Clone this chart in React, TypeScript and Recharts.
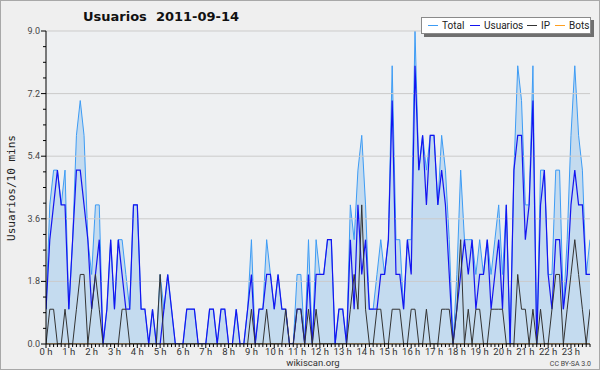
import React from 'react'
import { ComposedChart, Area, Line, XAxis, YAxis, CartesianGrid, ReferenceLine } from 'recharts'

// one value every 10 minutes, 6 per row = 1 hour
const total = [
  1, 4, 5, 5, 4, 5,
  1, 3, 6, 7, 6, 3,
  2, 4, 4, 0, 1, 3,
  1, 3, 3, 2, 1, 4,
  4, 1, 1, 0, 1, 0,
  2, 1, 2, 1, 0, 0,
  0, 1, 1, 1, 0, 0,
  0, 1, 1, 0, 1, 1,
  0, 0, 1, 0, 0, 1,
  3, 0, 1, 1, 3, 2,
  1, 2, 1, 1, 0, 0,
  2, 2, 0, 3, 0, 3,
  2, 2, 3, 3, 0, 1,
  1, 0, 4, 3, 5, 6,
  4, 1, 1, 2, 3, 2,
  3, 8, 3, 3, 1, 3,
  3, 9, 5, 6, 5, 6,
  6, 4, 6, 5, 3, 0,
  2, 5, 3, 3, 3, 2,
  3, 2, 3, 2, 3, 4,
  2, 4, 0, 5, 8, 7,
  4, 4, 8, 0, 5, 5,
  2, 2, 5, 5, 1, 3,
  6, 8, 6, 5, 2, 3,
]

const usuarios = [
  1, 3, 4, 5, 4, 4,
  1, 3, 5, 5, 4, 3,
  1, 2, 3, 0, 1, 3,
  1, 3, 2, 1, 1, 4,
  4, 1, 1, 0, 1, 0,
  0, 1, 2, 1, 0, 0,
  0, 1, 1, 1, 0, 0,
  0, 1, 1, 0, 1, 1,
  0, 0, 1, 0, 0, 1,
  2, 0, 1, 1, 2, 2,
  1, 2, 1, 1, 0, 0,
  1, 1, 0, 2, 0, 2,
  2, 2, 3, 3, 0, 1,
  1, 0, 3, 1, 4, 2,
  3, 1, 1, 1, 2, 2,
  3, 7, 2, 2, 1, 3,
  2, 8, 5, 6, 4, 6,
  6, 4, 5, 4, 2, 0,
  1, 2, 3, 2, 3, 1,
  2, 2, 3, 1, 2, 3,
  1, 4, 0, 5, 6, 6,
  3, 4, 7, 0, 4, 5,
  2, 1, 3, 3, 1, 2,
  4, 5, 4, 4, 2, 2,
]

const ip = [
  0, 1, 1, 0, 0, 1,
  0, 0, 1, 2, 2, 0,
  1, 2, 1, 0, 0, 0,
  0, 0, 1, 1, 0, 0,
  0, 0, 0, 0, 0, 0,
  2, 0, 0, 0, 0, 0,
  0, 0, 0, 0, 0, 0,
  0, 0, 0, 0, 0, 0,
  0, 0, 0, 0, 0, 0,
  1, 0, 0, 0, 1, 0,
  0, 0, 0, 1, 0, 0,
  1, 1, 0, 1, 0, 1,
  0, 0, 0, 0, 0, 0,
  0, 0, 1, 2, 1, 4,
  1, 0, 0, 1, 1, 0,
  0, 1, 1, 1, 0, 0,
  1, 1, 0, 0, 1, 0,
  0, 0, 1, 1, 1, 0,
  1, 3, 0, 1, 0, 1,
  1, 0, 0, 1, 1, 1,
  1, 0, 0, 0, 2, 1,
  1, 0, 1, 0, 1, 0,
  0, 1, 2, 2, 0, 1,
  2, 3, 2, 1, 0, 1,
]

const bots = [
  0, 0, 0, 0, 0, 0,
  0, 0, 0, 0, 0, 0,
  0, 0, 0, 0, 0, 0,
  0, 0, 0, 0, 0, 0,
  0, 0, 0, 0, 0, 0,
  0, 0, 0, 0, 0, 0,
  0, 0, 0, 0, 0, 0,
  0, 0, 0, 0, 0, 0,
  0, 0, 0, 0, 0, 0,
  0, 0, 0, 0, 0, 0,
  0, 0, 0, 0, 0, 0,
  0, 0, 0, 0, 0, 0,
  0, 0, 0, 0, 0, 0,
  0, 0, 0, 0, 0, 0,
  0, 0, 0, 0, 0, 0,
  0, 0, 0, 0, 0, 0,
  0, 0, 0, 0, 0, 0,
  0, 0, 0, 0, 0, 0,
  0, 0, 0, 0, 0, 0,
  0, 0, 0, 0, 0, 0,
  0, 0, 0, 0, 0, 0,
  0, 0, 0, 0, 0, 0,
  0, 0, 0, 0, 0, 0,
  0, 0, 0, 0, 0, 0,
]

const hours = [
  '0 h', '1 h', '2 h', '3 h', '4 h', '5 h', '6 h', '7 h', '8 h', '9 h', '10 h', '11 h',
  '12 h', '13 h', '14 h', '15 h', '16 h', '17 h', '18 h', '19 h', '20 h', '21 h', '22 h', '23 h',
]
const yLabels = [0, 1.8, 3.6, 5.4, 7.2, 9]

// legend entries, with their left offsets inside the legend box
const legendItems = [
  { name: 'Total', color: '#3d9cf5', at: 6 },
  { name: 'Usuarios', color: '#1414f0', at: 48 },
  { name: 'IP', color: '#333333', at: 105 },
  { name: 'Bots', color: '#ffa020', at: 133 },
]

const data = total.map((t, i) => ({ i, total: t, usuarios: usuarios[i], ip: ip[i], bots: bots[i] }))
const xTicks = data.map(d => d.i)
const yTicks = Array.from({ length: 21 }, (_, k) => +(k * 0.45).toFixed(2))

const TITLE_FONT = "'DejaVu Sans', sans-serif"
const SMALL_FONT = "Roboto, 'DejaVu Sans', sans-serif"

const XTick = (props: any) => {
  const { x, y, payload } = props
  const v = payload.value
  const major = v % 6 === 0
  return (
    <g>
      <line x1={x} x2={x} y1={y} y2={y + (major ? 4 : 3)} stroke="#000" />
      {major && (
        <text x={x} y={y + 11} textAnchor="middle" fontSize={9.5} fill="#333" style={{ fontFamily: SMALL_FONT }}>
          {hours[v / 6]}
        </text>
      )}
    </g>
  )
}

const YTick = (props: any) => {
  const { x, y, payload } = props
  const v = payload.value
  const major = yLabels.some(l => Math.abs(l - v) < 0.001)
  return (
    <g>
      <line x1={x - (major ? 5 : 3)} x2={x} y1={y} y2={y} stroke="#000" />
      {major && (
        <text x={x - 6} y={y + 3} textAnchor="end" fontSize={9} fill="#444" style={{ fontFamily: SMALL_FONT }}>
          {v.toFixed(1)}
        </text>
      )}
    </g>
  )
}

export default function App() {
  return (
    <div
      style={{
        position: 'relative',
        width: 600,
        height: 370,
        boxSizing: 'border-box',
        border: '1px solid #a8a8a8',
        background: '#efefef',
        fontFamily: SMALL_FONT,
      }}
    >
      <style>{'body{margin:0}'}</style>
      <div
        style={{
          position: 'absolute',
          left: 82,
          top: 8,
          fontFamily: TITLE_FONT,
          fontSize: 13,
          fontWeight: 'bold',
          color: '#111',
          whiteSpace: 'pre',
        }}
      >
        {'Usuarios  2011-09-14'}
      </div>
      <div
        style={{
          position: 'absolute',
          left: 10,
          top: 187,
          transform: 'translate(-50%, -50%) rotate(-90deg)',
          fontFamily: "'DejaVu Sans Mono', monospace",
          fontSize: 11,
          color: '#222',
          whiteSpace: 'nowrap',
        }}
      >
        Usuarios/10 mins
      </div>
      <ComposedChart width={598} height={368} data={data} margin={{ top: 30, right: 9, bottom: 11, left: 0 }}>
        <CartesianGrid horizontal={false} vertical={false} fill="#eef0f2" />
        {yLabels.slice(1).map(v => (
          <ReferenceLine key={v} y={v} stroke="#cbcbcb" strokeWidth={1} />
        ))}
        <XAxis
          dataKey="i"
          type="number"
          domain={[0, 143]}
          ticks={xTicks}
          interval={0}
          tick={<XTick />}
          tickLine={false}
          tickSize={0}
          tickMargin={0}
          height={14}
          axisLine={{ stroke: '#000' }}
          allowDataOverflow
        />
        <YAxis
          type="number"
          domain={[0, 9]}
          ticks={yTicks}
          interval={0}
          tick={<YTick />}
          tickLine={false}
          tickSize={0}
          tickMargin={0}
          width={45}
          axisLine={{ stroke: '#000' }}
          allowDataOverflow
        />
        <Area
          dataKey="total"
          type="linear"
          stroke="#3d9cf5"
          strokeWidth={1}
          fill="#c4dbef"
          fillOpacity={1}
          isAnimationActive={false}
          dot={false}
          activeDot={false}
        />
        <Line dataKey="bots" type="linear" stroke="#ffa020" strokeWidth={1} dot={false} isAnimationActive={false} />
        <Line dataKey="usuarios" type="linear" stroke="#1414f0" strokeWidth={1.2} dot={false} isAnimationActive={false} />
        <Line dataKey="ip" type="linear" stroke="#333333" strokeWidth={1} dot={false} isAnimationActive={false} />
      </ComposedChart>
      <div
        style={{
          position: 'absolute',
          left: 420,
          top: 16,
          width: 168,
          height: 15,
          background: '#fff',
          border: '1px solid #8a8a8a',
          boxShadow: '3px 3px 0 #6f6f6f',
          fontSize: 10,
          color: '#222',
          whiteSpace: 'nowrap',
        }}
      >
        {legendItems.map(it => (
          <div key={it.name} style={{ position: 'absolute', left: it.at, top: 0, height: 15, display: 'flex', alignItems: 'center' }}>
            <div style={{ width: 10, height: 1, background: it.color, marginRight: 4 }} />
            <span>{it.name}</span>
          </div>
        ))}
      </div>
      <div style={{ position: 'absolute', left: 0, width: 624, top: 356, textAlign: 'center', fontSize: 9.5, color: '#333' }}>
        wikiscan.org
      </div>
      <div style={{ position: 'absolute', right: 8, top: 359, fontSize: 7, color: '#444' }}>CC BY-SA 3.0</div>
    </div>
  )
}
